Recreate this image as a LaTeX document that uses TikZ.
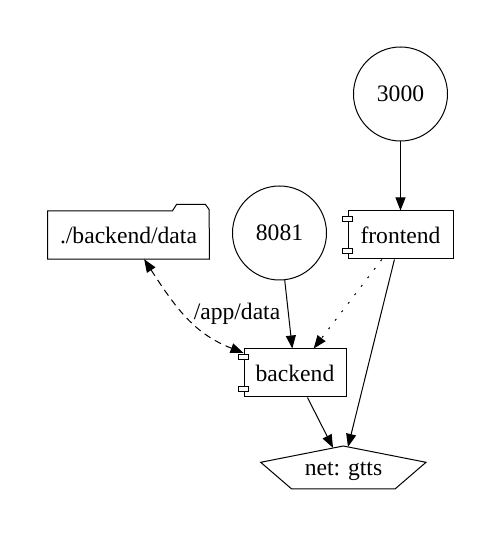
\documentclass[tikz,border=0pt]{standalone}
\usepackage{fontspec}
\setmainfont{Liberation Serif}
\usetikzlibrary{arrows.meta}
\definecolor{inkline}{RGB}{0,0,0}

\tikzset{
  svc/.style={draw=inkline,line width=1pt,minimum width=#1,minimum height=48pt,inner sep=0pt},
  port/.style={draw=inkline,circle,line width=1pt,minimum size=94pt,inner sep=0pt},
  plug/.style={draw=inkline,fill=white,line width=1pt},
  link/.style={inkline,line width=1pt,-{Triangle[length=13pt,width=10pt]}},
}

\begin{document}
\begin{tikzpicture}[x=1pt,y=1pt,font=\fontsize{23.6pt}{28pt}\selectfont]
  \useasboundingbox (0,0) rectangle (501,542);
  % ports and services
  \node[port] (p3000) at (400.5,448) {3000};
  \node[port] (p8081) at (279.5,309) {8081};
  \node[svc=105pt] (frontend) at (400.5,307) {frontend};
  \node[svc=102pt] (backend) at (295,169) {backend};
  \foreach \s in {frontend,backend} {
    \draw[plug] (\s.north west) ++(-5,-5.7) rectangle ++(10,-5);
    \draw[plug] (\s.south west) ++(-5,6.3) rectangle ++(10,5);
  }
  % volume folder
  \node[minimum width=161.6pt,minimum height=48pt,inner sep=0pt] (vol) at (128.5,307) {./backend/data};
  \draw[inkline,line width=1pt] (vol.south west) -- (vol.north west) -- ++(125,0) -- ++(4,6.3)
    -- ++(29,0) -- ++(3.6,-5) -- (vol.south east) -- cycle;
  % network
  \node (net) at (343.5,71) {net: gtts};
  \draw[inkline,line width=1pt] (343.3,96) -- (426,79.7) -- (395,53) -- (291.7,53) -- (260.7,79.7) -- cycle;
  \coordinate (netL) at (333,94.2);
  \coordinate (netR) at (348,95.1);
  % edges
  \draw[link] (p3000) -- (frontend);
  \draw[link] (p8081) -- (backend);
  \draw[link,dash pattern=on 2pt off 8.7pt] (frontend) -- (backend);
  \draw[link] (frontend) -- (netR);
  \draw[link] (backend) -- (netL);
  \draw[link,{Triangle[length=13pt,width=10pt]}-{Triangle[length=13pt,width=10pt]},dash pattern=on 7pt off 5pt]
    (vol) .. controls (177,232) and (195,208) .. (backend);
  \node (lblData) at (237,228) {/app/data};
\end{tikzpicture}
\end{document}
